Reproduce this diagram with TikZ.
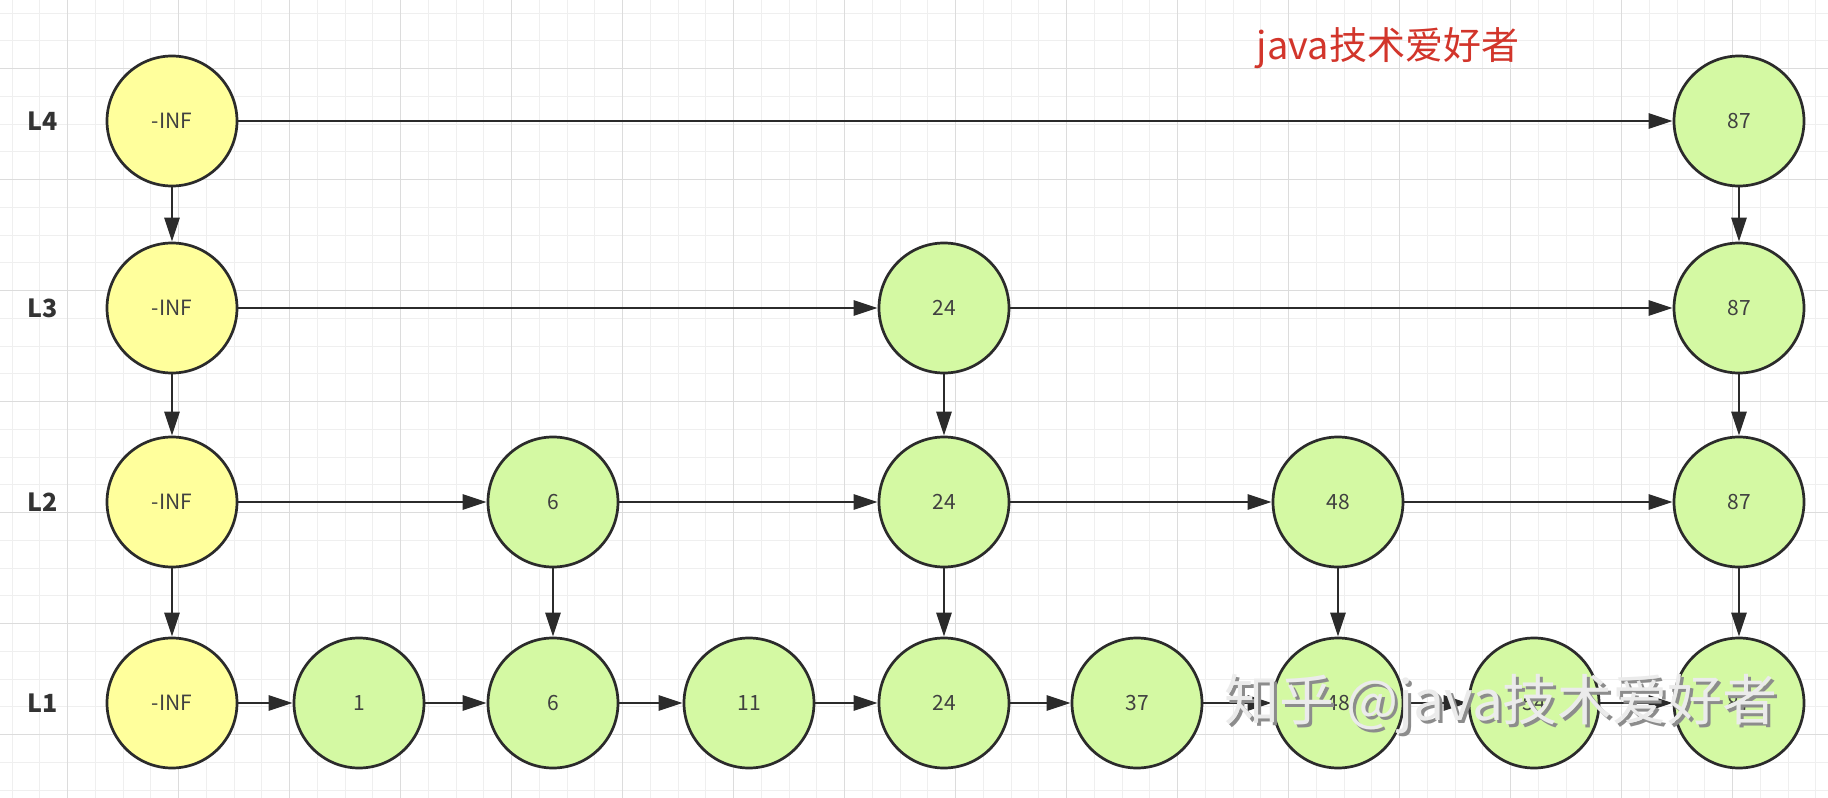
\documentclass[tikz,border=0pt]{standalone}
\usepackage{fontspec}
\setmainfont{Noto Sans CJK SC}
\usetikzlibrary{arrows.meta}
\definecolor{infyellow}{HTML}{FFFF9C}
\definecolor{keygreen}{HTML}{D4F9A3}
\definecolor{edgegray}{HTML}{2B2B2B}
\definecolor{gridminor}{HTML}{EFEFEF}
\definecolor{gridmajor}{HTML}{DCDCDC}
\definecolor{titlered}{HTML}{D2352B}
\tikzset{
  listnode/.style={circle, draw=edgegray, line width=1.35pt, minimum size=65pt,
    inner sep=0pt, text=black!75, font=\fontsize{10.5}{12}\selectfont},
  headnode/.style={listnode, fill=infyellow},
  keynode/.style={listnode, fill=keygreen},
  levellabel/.style={text=black!80, font=\fontsize{12.5}{14}\selectfont\bfseries},
  nextlink/.style={draw=edgegray, line width=1.35pt, -{Triangle[length=12pt,width=7.5pt]}},
  gridline/.style={draw=gridminor, line width=0.5pt},
  gridbold/.style={draw=gridmajor, line width=0.5pt},
  titletext/.style={text=titlered, font=\fontsize{19}{22}\selectfont},
  markshadow/.style={text=black!45, font=\fontsize{27.5}{30}\selectfont},
  marktext/.style={text=white!92!black, font=\fontsize{27.5}{30}\selectfont}
}

\begin{document}
\begin{tikzpicture}[x=0.5pt,y=-0.5pt]
  \useasboundingbox (0,0) rectangle (1828,798);
  \fill[white] (0,0) rectangle (1828,798);

  % background grid
  \foreach \i in {0,...,65}
    \draw[gridline] (12+27.75*\i,0) -- (12+27.75*\i,798);
  \foreach \i in {0,...,28}
    \draw[gridline] (0,13+27.75*\i) -- (1828,13+27.75*\i);
  \foreach \i in {2,6,...,62}
    \draw[gridbold] (12+27.75*\i,0) -- (12+27.75*\i,798);
  \foreach \i in {2,6,...,26}
    \draw[gridbold] (0,13+27.75*\i) -- (1828,13+27.75*\i);

  \node[titletext] (title) at (1388,48) {java技术爱好者};

  % level names
  \node[levellabel] (lab4) at (43,121) {L4};
  \node[levellabel] (lab3) at (43,308) {L3};
  \node[levellabel] (lab2) at (43,502) {L2};
  \node[levellabel] (lab1) at (43,703) {L1};

  % L4
  \node[headnode] (h4) at (172,121) {-INF};
  \node[keynode] (l4k87) at (1739,121) {87};

  % L3
  \node[headnode] (h3) at (172,308) {-INF};
  \node[keynode] (l3k24) at (944,308) {24};
  \node[keynode] (l3k87) at (1739,308) {87};

  % L2
  \node[headnode] (h2) at (172,502) {-INF};
  \node[keynode] (l2k6) at (553,502) {6};
  \node[keynode] (l2k24) at (944,502) {24};
  \node[keynode] (l2k48) at (1338,502) {48};
  \node[keynode] (l2k87) at (1739,502) {87};

  % L1
  \node[headnode] (h1) at (172,703) {-INF};
  \node[keynode] (l1k1) at (359,703) {1};
  \node[keynode] (l1k6) at (553,703) {6};
  \node[keynode] (l1k11) at (749,703) {11};
  \node[keynode] (l1k24) at (944,703) {24};
  \node[keynode] (l1k37) at (1137,703) {37};
  \node[keynode] (l1k48) at (1338,703) {48};
  \node[keynode] (l1k54) at (1534,703) {54};
  \node[keynode] (l1k87) at (1739,703) {87};

  % forward links
  \draw[nextlink] (h4) -- (l4k87);
  \draw[nextlink] (h3) -- (l3k24);
  \draw[nextlink] (l3k24) -- (l3k87);
  \draw[nextlink] (h2) -- (l2k6);
  \draw[nextlink] (l2k6) -- (l2k24);
  \draw[nextlink] (l2k24) -- (l2k48);
  \draw[nextlink] (l2k48) -- (l2k87);
  \draw[nextlink] (h1) -- (l1k1);
  \draw[nextlink] (l1k1) -- (l1k6);
  \draw[nextlink] (l1k6) -- (l1k11);
  \draw[nextlink] (l1k11) -- (l1k24);
  \draw[nextlink] (l1k24) -- (l1k37);
  \draw[nextlink] (l1k37) -- (l1k48);
  \draw[nextlink] (l1k48) -- (l1k54);
  \draw[nextlink] (l1k54) -- (l1k87);

  % down links
  \draw[nextlink] (h4) -- (h3);
  \draw[nextlink] (h3) -- (h2);
  \draw[nextlink] (h2) -- (h1);
  \draw[nextlink] (l4k87) -- (l3k87);
  \draw[nextlink] (l3k87) -- (l2k87);
  \draw[nextlink] (l2k87) -- (l1k87);
  \draw[nextlink] (l3k24) -- (l2k24);
  \draw[nextlink] (l2k24) -- (l1k24);
  \draw[nextlink] (l2k6) -- (l1k6);
  \draw[nextlink] (l2k48) -- (l1k48);

  % watermark
  \node[markshadow] (markbg) at (1504,707) {知乎 @java技术爱好者};
  \node[marktext] (mark) at (1501,704) {知乎 @java技术爱好者};
\end{tikzpicture}
\end{document}
